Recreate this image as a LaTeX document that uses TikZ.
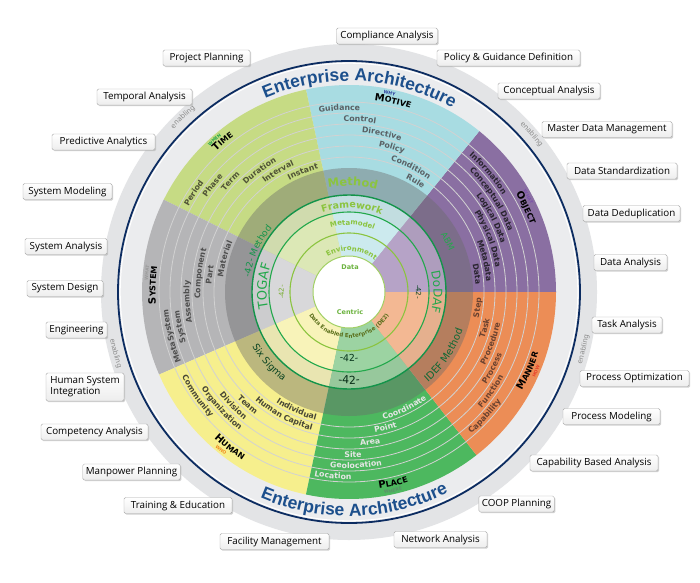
\documentclass[tikz,border=0pt]{standalone}
\usepackage{fontspec}
\setmainfont{DejaVu Sans}
\newfontfamily\boxfont{Open Sans}
\newfontfamily\eafont{Liberation Sans}
\usetikzlibrary{decorations.text,shadows}
\definecolor{timec}{HTML}{C6DB84}
\definecolor{motc}{HTML}{A8DCE2}
\definecolor{objc}{HTML}{8A6FA2}
\definecolor{manc}{HTML}{EC8D56}
\definecolor{plac}{HTML}{4DB85F}
\definecolor{humc}{HTML}{F6EF8D}
\definecolor{sysc}{HTML}{B5B5B7}
\definecolor{timep}{HTML}{DCE8B6}
\definecolor{motp}{HTML}{CCEAEE}
\definecolor{objp}{HTML}{B6A3C7}
\definecolor{manp}{HTML}{F3B893}
\definecolor{plap}{HTML}{9CD3A2}
\definecolor{hump}{HTML}{F8F3B9}
\definecolor{sysp}{HTML}{D8D8DA}
\definecolor{timet}{HTML}{4F5236}
\definecolor{mott}{HTML}{5A6064}
\definecolor{objt}{HTML}{2A2530}
\definecolor{mant}{HTML}{6A4230}
\definecolor{plat}{HTML}{E6E6E6}
\definecolor{humt}{HTML}{474636}
\definecolor{syst}{HTML}{4F4F4F}
\definecolor{dkgreen}{HTML}{13944A}
\definecolor{mdgreen}{HTML}{22A84B}
\definecolor{ltgreen}{HTML}{8BC43F}
\definecolor{eablue}{HTML}{1C4F8C}
\definecolor{navy}{HTML}{0C2C61}
\definecolor{grayband}{HTML}{E3E4E6}
\definecolor{grayin}{HTML}{EBECEE}
\definecolor{ringline}{HTML}{D2D2D2}
\definecolor{enab}{HTML}{8A8A8A}
\definecolor{cbord}{HTML}{A9A9A9}
\definecolor{ovl}{HTML}{6B6B6B}
\definecolor{whenc}{HTML}{22A84A}
\definecolor{whyc}{HTML}{2C3E9E}
\definecolor{whatc}{HTML}{7B52AB}
\definecolor{whatg}{HTML}{9A9A9A}
\definecolor{whoc}{HTML}{F08A1E}
\definecolor{wherec}{HTML}{5D8F6A}
\definecolor{howc}{HTML}{E8402A}
\definecolor{datac}{HTML}{6CB33F}
\definecolor{dec}{HTML}{5A6E1A}
% text along an arc, top convention (clockwise) and bottom convention (counter-clockwise)
\newcommand\tarc[5]{\path[decorate,decoration={text along path,text align=center,text={|#4|#5}}] (#2+#3:#1) arc[start angle=#2+#3,end angle=#2-#3,radius=#1];}
\newcommand\barc[5]{\path[decorate,decoration={text along path,text align=center,text={|#4|#5}}] (#2-#3:#1) arc[start angle=#2-#3,end angle=#2+#3,radius=#1];}
\newcommand\rl[1]{\fontsize{7.8}{8}\selectfont\bfseries\color{#1}}
\newcommand\ttl{\fontsize{10}{10}\selectfont\bfseries\color{black}}
\newcommand\tts{\fontsize{8}{8}\selectfont\bfseries\color{black}}
\newcommand\qw[1]{\fontsize{4.5}{4.5}\selectfont\bfseries\color{#1}}
\newcommand\enb{\fontsize{7}{7}\selectfont\color{enab}}
\newcommand\inl[2]{\fontsize{#1}{#1}\selectfont\color{#2}}
\newcommand\inb[2]{\fontsize{#1}{#1}\selectfont\bfseries\color{#2}}
\begin{document}
\begin{tikzpicture}[x=1pt,y=1pt,
  cbox/.style={draw=cbord, top color=white, bottom color=black!7, rounded corners=1.5pt, inner xsep=3pt, inner ysep=2pt,
    minimum height=16pt, font=\boxfont\fontsize{9.8}{11}\selectfont, text=black,
    drop shadow={shadow xshift=1.2pt, shadow yshift=-1.2pt, fill=black!30, opacity=0.6}},
  ringl/.style={draw=ringline, line width=0.8pt}]
\useasboundingbox (0,0) rectangle (700,582);
\fill[white] (0,0) rectangle (700,582);
\begin{scope}[shift={(349,290)}]
  % outer band
  \fill[grayband] (0,0) circle[radius=248];
  \fill[grayin] (0,0) circle[radius=230];
  \draw[white, line width=1pt] (0,0) circle[radius=228.8];
  \draw[navy, line width=1.8pt] (0,0) circle[radius=231];
  % sectors
  \foreach \a/\b/\c in {0/51/objc,51/102/motc,102/153.5/timec,153.5/203.5/sysc,203.5/258/humc,258/308/plac,308/360/manc}
    {\fill[fill=\c] (0,0) -- (\a:207) arc[start angle=\a,end angle=\b,radius=207] -- cycle;}
  \foreach \r in {135,146,157,168,179,190} {\draw[ringl] (0,0) circle[radius=\r];}
  \foreach \a/\b/\c in {0/51/objp,51/102/motp,102/153.5/timep,153.5/203.5/sysp,203.5/258/hump,258/308/plap,308/360/manp}
    {\fill[fill=\c] (0,0) -- (\a:97) arc[start angle=\a,end angle=\b,radius=97] -- cycle;}
  \fill[ovl, opacity=0.42, even odd rule] (0,0) circle[radius=124] circle[radius=97];
  \fill[ovl, opacity=0.10, even odd rule] (0,0) circle[radius=97] circle[radius=80];
  \draw[dkgreen, line width=1.4pt] (0,0) circle[radius=97];
  \draw[mdgreen, line width=1.1pt] (0,0) circle[radius=80];
  \draw[ltgreen, line width=1.1pt] (0,0) circle[radius=59];
  \fill[white] (0,0) circle[radius=36];
  \draw[ltgreen!80, line width=1pt] (0,0) circle[radius=36];
  % Enterprise Architecture
  \tarc{211}{87}{75}{\eafont\fontsize{17.5}{17.5}\selectfont\bfseries\color{eablue}}{Enterprise Architecture}
  \barc{224}{-88.5}{75}{\eafont\fontsize{17.5}{17.5}\selectfont\bfseries\color{eablue}}{Enterprise Architecture}
  % enabling
  \tarc{239.5}{133.5}{30}{\enb}{enabling}
  \tarc{239.5}{40.8}{30}{\enb}{enabling}
  \barc{243.5}{194.7}{30}{\enb}{enabling}
  \barc{243.5}{-13.7}{30}{\enb}{enabling}
  % TIME
  \tarc{126.7}{111}{40}{\rl{timet}}{Instant}
  \tarc{137.7}{120.5}{40}{\rl{timet}}{Interval}
  \tarc{148.7}{126.5}{40}{\rl{timet}}{Duration}
  \tarc{159.7}{137}{40}{\rl{timet}}{Term}
  \tarc{170.7}{142}{40}{\rl{timet}}{Phase}
  \tarc{181.7}{147.5}{40}{\rl{timet}}{Period}
  \tarc{193.5}{130}{40}{\ttl}{T|\tts|IME}
  \tarc{201.5}{131.5}{30}{\qw{whenc}}{WHEN}
  % MOTIVE
  \tarc{126.7}{59}{40}{\rl{mott}}{Rule}
  \tarc{137.7}{63.6}{40}{\rl{mott}}{Condition}
  \tarc{148.7}{73.5}{40}{\rl{mott}}{Policy}
  \tarc{159.7}{78.3}{40}{\rl{mott}}{Directive}
  \tarc{170.7}{86.4}{40}{\rl{mott}}{Control}
  \tarc{181.7}{93}{40}{\rl{mott}}{Guidance}
  \tarc{193.5}{77}{40}{\ttl}{M|\tts|OTIVE}
  \tarc{201.5}{78.5}{30}{\qw{whyc}}{WHY}
  % OBJECT
  \tarc{126.7}{8}{40}{\rl{objt}}{Data}
  \tarc{137.7}{13}{40}{\rl{objt}}{Metadata}
  \tarc{148.7}{21}{40}{\rl{objt}}{Physical Data}
  \tarc{159.7}{27.5}{40}{\rl{objt}}{Logical Data}
  \tarc{170.7}{33}{40}{\rl{objt}}{Conceptual Data}
  \tarc{181.7}{40.5}{40}{\rl{objt}}{Information}
  \tarc{193.5}{25.4}{40}{\ttl}{O|\tts|BJECT}
  \tarc{201.5}{28}{30}{\qw{whatc}}{WHAT}
  % SYSTEM
  \tarc{126.7}{165}{40}{\rl{syst}}{Material}
  \tarc{137.7}{173}{40}{\rl{syst}}{Part}
  \tarc{148.7}{173}{40}{\rl{syst}}{Component}
  \tarc{159.7}{183.5}{40}{\rl{syst}}{Assembly}
  \tarc{170.7}{191.7}{40}{\rl{syst}}{System}
  \tarc{181.7}{194}{40}{\rl{syst}}{MetaSystem}
  \tarc{193.5}{178}{40}{\ttl}{S|\tts|YSTEM}
  \tarc{201.5}{174.5}{30}{\qw{whatg}}{WHAT}
  % HUMAN
  \barc{132.3}{-114}{40}{\rl{humt}}{Individual}
  \barc{143.3}{-118}{40}{\rl{humt}}{Human Capital}
  \barc{154.3}{-132}{40}{\rl{humt}}{Team}
  \barc{165.3}{-135.5}{40}{\rl{humt}}{Division}
  \barc{176.3}{-137.6}{40}{\rl{humt}}{Organization}
  \barc{187.3}{-145.5}{40}{\rl{humt}}{Community}
  \barc{199}{-127.5}{40}{\ttl}{H|\tts|UMAN}
  \barc{205}{-129}{30}{\qw{whoc}}{WHO}
  % PLACE
  \barc{132.3}{-64.5}{40}{\rl{plat}}{Coordinate}
  \barc{143.3}{-75}{40}{\rl{plat}}{Point}
  \barc{154.3}{-82}{40}{\rl{plat}}{Area}
  \barc{165.3}{-88.6}{40}{\rl{plat}}{Site}
  \barc{176.3}{-87.7}{40}{\rl{plat}}{Geolocation}
  \barc{187.3}{-95}{40}{\rl{plat}}{Location}
  \barc{199}{-77}{40}{\ttl}{P|\tts|LACE}
  \barc{205}{-77.5}{30}{\qw{wherec}}{WHERE}
  % MANNER
  \barc{132.3}{-7}{40}{\rl{mant}}{Step}
  \barc{143.3}{-15}{40}{\rl{mant}}{Task}
  \barc{154.3}{-20}{40}{\rl{mant}}{Procedure}
  \barc{165.3}{-28}{40}{\rl{mant}}{Process}
  \barc{176.3}{-35}{40}{\rl{mant}}{Function}
  \barc{187.3}{-42.5}{40}{\rl{mant}}{Capability}
  \barc{199}{-23.8}{40}{\ttl}{M|\tts|ANNER}
  \barc{205}{-23}{30}{\qw{howc}}{HOW}
  % inner rings
  \tarc{106}{88}{60}{\inb{11.5}{ltgreen}}{Method}
  \tarc{84}{88}{60}{\inb{9.5}{ltgreen}}{Framework}
  \tarc{67}{87}{60}{\inb{7}{ltgreen}}{Metamodel}
  \tarc{41}{86}{80}{\inb{7}{ltgreen}}{Environment}
  \barc{46}{-90}{85}{\inb{5.6}{dec}}{Data Enabled Enterprise (DE2)}
  \tarc{108}{27}{40}{\inl{8.5}{mdgreen}}{ABM}
  \barc{120}{-33.6}{40}{\inl{10}{dkgreen!70!black}}{IDEF Method}
  \barc{111}{-138.6}{40}{\inl{9.5}{dkgreen!45!black}}{Six Sigma}
  \tarc{100}{155.9}{40}{\inl{9}{dkgreen}}{-42- Method}
  \tarc{82.5}{176}{50}{\inl{13}{mdgreen}}{TOGAF}
  \tarc{84.5}{0}{50}{\inl{12}{mdgreen}}{DoDAF}
  \barc{92}{-90}{40}{\inl{11}{dkgreen!30!black}}{-42-}
  \tarc{65}{180}{50}{\inl{7}{ltgreen!90!black}}{-42-}
  \tarc{67}{0}{50}{\inl{7}{dkgreen!45!black}}{-42-}
  \barc{69.5}{-90}{50}{\inl{9.5}{dkgreen!35!black}}{-42-}
  \node[font=\fontsize{6.5}{7}\selectfont\bfseries, text=datac, inner sep=0pt] (dt) at (1,25) {Data};
  \node[font=\fontsize{6.5}{7}\selectfont\bfseries, text=datac, inner sep=0pt] (ce) at (1,-20) {Centric};
\end{scope}
% callouts
\node[cbox, minimum width=87pt] (pp) at (206.5,524) {Project Planning};
\node[cbox, minimum width=101pt] (ca) at (387,546) {Compliance Analysis};
\node[cbox, minimum width=143pt] (pg) at (508.5,524) {Policy \& Guidance Definition};
\node[cbox, minimum width=95pt] (ta) at (144.5,485) {Temporal Analysis};
\node[cbox, minimum width=102pt] (cna) at (549,491) {Conceptual Analysis};
\node[cbox, minimum width=103pt] (pa) at (103.5,440) {Predictive Analytics};
\node[cbox, minimum width=130pt] (mdm) at (607,452.5) {Master Data Management};
\node[cbox, minimum width=89pt] (sm) at (67.5,390.5) {System Modeling};
\node[cbox, minimum width=110pt] (ds) at (622,411) {Data Standardization};
\node[cbox, minimum width=97pt] (dd) at (631.5,368.5) {Data Deduplication};
\node[cbox, minimum width=82pt] (sa) at (66,335.5) {System Analysis};
\node[cbox, minimum width=76pt] (sd) at (65,293.5) {System Design};
\node[cbox, minimum width=73pt] (da) at (630.5,319.5) {Data Analysis};
\node[cbox, minimum width=61pt] (en) at (76.5,252) {Engineering};
\node[cbox, minimum width=70pt] (tka) at (627,257) {Task Analysis};
\node[cbox, minimum width=78pt, minimum height=28pt, align=left] (hsi) at (85,195) {Human System\\Integration};
\node[cbox, minimum width=109pt] (po) at (634.5,203.5) {Process Optimization};
\node[cbox, minimum width=107pt] (cpa) at (94.5,150) {Competency Analysis};
\node[cbox, minimum width=97pt] (pm) at (611.5,165.5) {Process Modeling};
\node[cbox, minimum width=97pt] (mp) at (131.5,110) {Manpower Planning};
\node[cbox, minimum width=128pt] (cba) at (594,119) {Capability Based Analysis};
\node[cbox, minimum width=108pt] (te) at (178,76.5) {Training \& Education};
\node[cbox, minimum width=74pt] (coop) at (516.5,78) {COOP Planning};
\node[cbox, minimum width=109pt] (fm) at (274.5,40.5) {Facility Management};
\node[cbox, minimum width=93pt] (na) at (440.5,42.5) {Network Analysis};
\end{tikzpicture}
\end{document}
